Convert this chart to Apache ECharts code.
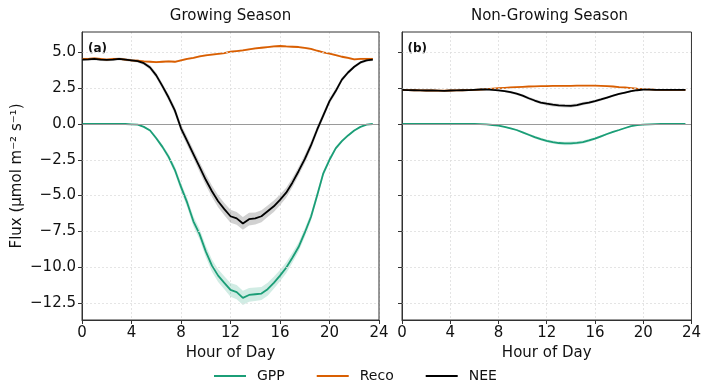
<!DOCTYPE html>
<html>
<head>
<meta http-equiv="content-type" content="text/html; charset=utf-8"/>
<title>Flux diurnal cycle</title>
<style type="text/css">body,html{width:100%;height:100%;margin:0;background:#fff}#chart{width:704px;height:382px}</style>
<script src="https://cdn.jsdelivr.net/npm/echarts@6/dist/echarts.min.js"></script>
<script>
	// half-hourly hour of day
	var hours = [0,0.5,1,1.5,2,2.5,3,3.5,4,4.5,5,5.5,6,6.5,7,7.5,8,8.5,9,9.5,10,10.5,11,11.5,
		12,12.5,13,13.5,14,14.5,15,15.5,16,16.5,17,17.5,18,18.5,19,19.5,20,20.5,21,21.5,22,22.5,23,23.5];
	var xTicks = [0,4,8,12,16,20,24];
	var yTicks = [-12.5,-10,-7.5,-5,-2.5,0,2.5,5];
	var seriesNames = ["GPP","Reco","NEE"];

	// (a) growing season
	var gppA = [0,0,0,0,0,0,0,0,-0.02,-0.05,-0.2,-0.45,-1.0,-1.6,-2.3,-3.2,-4.4,-5.5,-6.8,-7.7,-8.9,-9.9,-10.6,-11.1,
		-11.6,-11.75,-12.15,-11.95,-11.9,-11.85,-11.55,-11.1,-10.6,-10.05,-9.35,-8.6,-7.6,-6.5,-5.0,-3.45,-2.5,-1.7,-1.2,-0.8,-0.45,-0.2,-0.05,0];
	var recoA = [4.55,4.55,4.58,4.55,4.5,4.55,4.55,4.5,4.45,4.42,4.38,4.35,4.32,4.35,4.38,4.35,4.45,4.55,4.62,4.72,4.8,4.85,4.9,4.95,
		5.05,5.1,5.15,5.22,5.28,5.33,5.38,5.42,5.45,5.42,5.4,5.38,5.32,5.25,5.12,5.0,4.92,4.82,4.7,4.62,4.52,4.55,4.55,4.55];
	var neeA = [4.5,4.52,4.55,4.5,4.48,4.5,4.55,4.5,4.45,4.4,4.25,3.95,3.4,2.65,1.85,0.95,-0.3,-1.2,-2.1,-3.0,-3.9,-4.7,-5.4,-5.95,
		-6.45,-6.6,-6.95,-6.65,-6.6,-6.45,-6.1,-5.75,-5.3,-4.8,-4.1,-3.3,-2.45,-1.5,-0.4,0.6,1.6,2.3,3.1,3.6,4.0,4.3,4.45,4.5];
	var gppErrA = [0,0,0,0,0,0,0,0,0,0.02,0.05,0.08,0.12,0.15,0.2,0.25,0.3,0.32,0.35,0.38,0.4,0.42,0.45,0.45,
		0.48,0.5,0.5,0.48,0.48,0.45,0.45,0.42,0.4,0.38,0.35,0.32,0.3,0.28,0.25,0.2,0.15,0.12,0.1,0.07,0.05,0.03,0.01,0];
	var recoErrA = [0.08,0.08,0.08,0.08,0.08,0.08,0.08,0.08,0.08,0.08,0.07,0.07,0.07,0.07,0.07,0.07,0.07,0.07,0.07,0.07,0.07,0.07,0.07,0.07,
		0.07,0.07,0.07,0.07,0.07,0.07,0.07,0.07,0.07,0.07,0.07,0.07,0.07,0.07,0.07,0.07,0.07,0.07,0.08,0.08,0.08,0.08,0.08,0.08];
	var neeErrA = [0.1,0.1,0.1,0.1,0.1,0.1,0.1,0.1,0.1,0.1,0.12,0.15,0.18,0.2,0.22,0.25,0.28,0.3,0.32,0.35,0.38,0.4,0.42,0.42,
		0.45,0.45,0.45,0.45,0.42,0.42,0.4,0.4,0.38,0.35,0.32,0.3,0.3,0.28,0.25,0.22,0.2,0.18,0.15,0.12,0.1,0.1,0.1,0.1];

	// (b) non-growing season
	var gppB = [0,0,0,0,0,0,0,0,0,0,0,0,0,-0.01,-0.03,-0.07,-0.12,-0.2,-0.3,-0.42,-0.58,-0.75,-0.92,-1.06,
		-1.18,-1.27,-1.33,-1.36,-1.35,-1.32,-1.26,-1.15,-1.02,-0.86,-0.7,-0.55,-0.42,-0.28,-0.15,-0.08,-0.04,-0.02,-0.01,0,0,0,0,0];
	var recoB = [2.38,2.37,2.36,2.35,2.34,2.34,2.33,2.33,2.34,2.35,2.36,2.37,2.39,2.41,2.44,2.47,2.5,2.53,2.56,2.58,2.6,2.62,2.63,2.64,
		2.65,2.66,2.66,2.67,2.67,2.68,2.68,2.68,2.68,2.67,2.65,2.62,2.58,2.55,2.51,2.47,2.44,2.42,2.4,2.39,2.38,2.38,2.38,2.38];
	var neeB = [2.38,2.37,2.36,2.35,2.34,2.34,2.33,2.32,2.34,2.35,2.36,2.37,2.39,2.41,2.42,2.38,2.35,2.3,2.22,2.12,1.98,1.8,1.64,1.5,
		1.42,1.35,1.3,1.28,1.27,1.32,1.42,1.5,1.6,1.72,1.85,1.98,2.1,2.2,2.3,2.36,2.4,2.4,2.38,2.38,2.38,2.38,2.38,2.38];
	var gppErrB = [0,0,0,0,0,0,0,0,0,0,0,0,0,0,0.01,0.02,0.03,0.04,0.05,0.06,0.07,0.08,0.09,0.1,
		0.1,0.11,0.11,0.12,0.12,0.11,0.11,0.1,0.09,0.08,0.07,0.06,0.05,0.04,0.03,0.02,0.01,0.01,0,0,0,0,0,0];
	var recoErrB = [0.04,0.04,0.04,0.04,0.04,0.04,0.04,0.04,0.04,0.04,0.04,0.04,0.04,0.04,0.04,0.04,0.04,0.04,0.04,0.04,0.04,0.04,0.04,0.04,
		0.04,0.04,0.04,0.04,0.04,0.04,0.04,0.04,0.04,0.04,0.04,0.04,0.04,0.04,0.04,0.04,0.04,0.04,0.04,0.04,0.04,0.04,0.04,0.04];
	var neeErrB = [0.05,0.05,0.05,0.05,0.05,0.05,0.05,0.05,0.05,0.05,0.05,0.05,0.05,0.05,0.05,0.06,0.06,0.07,0.08,0.09,0.1,0.1,0.11,0.11,
		0.12,0.12,0.12,0.12,0.12,0.11,0.11,0.1,0.1,0.09,0.08,0.07,0.07,0.06,0.06,0.05,0.05,0.05,0.05,0.05,0.05,0.05,0.05,0.05];

	var colors = {GPP: "#1b9e77", Reco: "#d95f02", NEE: "#000000"};
	var bandColors = {GPP: "rgba(27,158,119,0.2)", Reco: "rgba(217,95,2,0.2)", NEE: "rgba(0,0,0,0.18)"};
	var FONT = "DejaVu Sans";

	function fmt(v){
		var s = Math.abs(v).toFixed(1);
		return v < 0 ? "\u2212" + s : s;
	}

	// shaded band (mean +/- err) drawn as one polygon through the axis scales
	function bandSeries(p, vals, err, fill){
		return {
			type: "custom", xAxisIndex: p, yAxisIndex: p, data: [[0, 0]], silent: true, z: 2,
			renderItem: function(params, api){
				var pts = [], i;
				for (i = 0; i < hours.length; i++) pts.push(api.coord([hours[i], vals[i] + err[i]]));
				for (i = hours.length - 1; i >= 0; i--) pts.push(api.coord([hours[i], vals[i] - err[i]]));
				return {type: "polygon", shape: {points: pts}, style: {fill: fill}};
			}
		};
	}

	function onLoad()
	{
		var chart = echarts.init(document.getElementById("chart"), null, {renderer: "canvas"});
		var series = [];
		var panels = [
			{GPP: gppA, Reco: recoA, NEE: neeA, errGPP: gppErrA, errReco: recoErrA, errNEE: neeErrA},
			{GPP: gppB, Reco: recoB, NEE: neeB, errGPP: gppErrB, errReco: recoErrB, errNEE: neeErrB}
		];
		for (var p = 0; p < panels.length; p++) {
			// grid lines + zero line
			series.push({
				type: "line", xAxisIndex: p, yAxisIndex: p, data: [], z: 1, silent: true,
				markLine: {
					silent: true, symbol: "none", label: {show: false}, animation: false,
					data: yTicks.map(function(v){
						return {yAxis: v, lineStyle: v === 0 ? {color: "#9a9a9a", width: 1, type: "solid"} : {color: "#dedede", width: 0.8, type: [2, 2]}};
					})
				}
			});
			for (var k = 0; k < seriesNames.length; k++) {
				var nm = seriesNames[k];
				var vals = panels[p][nm], err = panels[p]["err" + nm];
				var line = [];
				for (var i = 0; i < hours.length; i++) line.push([hours[i], vals[i]]);
				series.push(bandSeries(p, vals, err, bandColors[nm]));
				series.push({
					name: nm, type: "line", xAxisIndex: p, yAxisIndex: p, data: line,
					symbol: "none", color: colors[nm], lineStyle: {color: colors[nm], width: 1.8}, z: 3 + k
				});
			}
		}

		var xAxisBase = function(idx){
			return {
				type: "value", gridIndex: idx, min: 0, max: 24, interval: 4,
				name: "Hour of Day", nameLocation: "middle", nameGap: 21,
				nameTextStyle: {fontFamily: FONT, fontSize: 15, color: "#111"},
				axisLine: {show: true, onZero: false, lineStyle: {color: "#333", width: 1}},
				axisTick: {show: true, length: 4, lineStyle: {color: "#333"}},
				axisLabel: {fontFamily: FONT, fontSize: 15, color: "#111", margin: 6},
				splitLine: {show: true, lineStyle: {color: "#dedede", width: 0.8, type: [2, 2]}}
			};
		};
		var yAxisBase = function(idx){
			return {
				type: "value", gridIndex: idx, min: -13.7, max: 6.43,
				name: idx === 0 ? "Flux (\u03bcmol m\u207b\u00b2 s\u207b\u00b9)" : "",
				nameLocation: "middle", nameGap: 57,
				nameTextStyle: {fontFamily: FONT, fontSize: 15, color: "#111"},
				axisLine: {show: true, lineStyle: {color: "#333", width: 1}},
				axisTick: {show: true, length: 4, customValues: yTicks, lineStyle: {color: "#333"}},
				axisLabel: {show: idx === 0, customValues: yTicks, fontFamily: FONT, fontSize: 15, color: "#111", margin: 6, formatter: fmt},
				splitLine: {show: false}
			};
		};

		var option = {
			animation: false,
			backgroundColor: "#fff",
			grid: [
				{left: 82, top: 32, width: 297, height: 288, show: true, borderColor: "#333", borderWidth: 1, z: 10},
				{left: 402, top: 32, width: 295, height: 288, show: true, borderColor: "#333", borderWidth: 1, z: 10}
			],
			xAxis: [xAxisBase(0), xAxisBase(1)],
			yAxis: [yAxisBase(0), yAxisBase(1)],
			legend: {
				data: seriesNames, left: 209, top: 364, itemWidth: 32, itemHeight: 2, itemGap: 32,
				icon: "rect",
				textStyle: {fontFamily: FONT, fontSize: 14, color: "#111", padding: [0, 0, 0, 6]}
			},
			graphic: [
				{type: "text", x: 230.5, y: 16, style: {text: "Growing Season", fontFamily: FONT, fontSize: 15, fill: "#111", align: "center", verticalAlign: "middle"}},
				{type: "text", x: 549.5, y: 16, style: {text: "Non-Growing Season", fontFamily: FONT, fontSize: 15, fill: "#111", align: "center", verticalAlign: "middle"}},
				{type: "text", x: 88, y: 49, style: {text: "(a)", fontFamily: FONT, fontSize: 12, fontWeight: "bold", fill: "#111", verticalAlign: "middle"}},
				{type: "text", x: 407.5, y: 49, style: {text: "(b)", fontFamily: FONT, fontSize: 12, fontWeight: "bold", fill: "#111", verticalAlign: "middle"}}
			],
			series: series
		};
		chart.setOption(option);
	}
</script>
</head>
<body onload="onLoad()">
	<div id="chart"></div>
</body>
</html>
